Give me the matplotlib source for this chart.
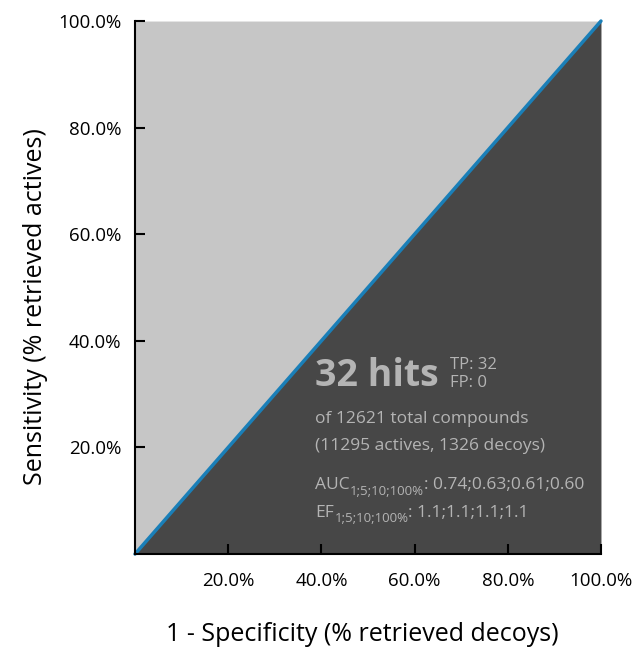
import numpy as np
import matplotlib.pyplot as plt
from matplotlib.transforms import offset_copy

plt.rcParams['font.family'] = ['Open Sans', 'DejaVu Sans']

# ROC curve points (fraction of decoys, fraction of actives)
roc_x = [0.0, 1.0]
roc_y = [0.0, 1.0]
ticks = [0.2, 0.4, 0.6, 0.8, 1.0]
tick_labels = ['20.0%', '40.0%', '60.0%', '80.0%', '100.0%']

hits = 32
tp, fp = 32, 0
total, actives, decoys = 12621, 11295, 1326
auc = [0.74, 0.63, 0.61, 0.60]
ef = [1.1, 1.1, 1.1, 1.1]
levels = '1;5;10;100%'

fig = plt.figure(figsize=(6.33, 6.53), dpi=100)
ax = fig.add_axes([0.2133, 0.1516, 0.7361, 0.8162])

# regions above / below the curve
ax.fill_between(roc_x, roc_y, 1, color='#c6c6c6', linewidth=0)
ax.fill_between(roc_x, 0, roc_y, color='#474747', linewidth=0)
ax.plot(roc_x, roc_y, color='#1a7fb8', linewidth=2.5, solid_capstyle='round', clip_on=False)

ax.set_xlim(0, 1)
ax.set_ylim(0, 1)
ax.set_xticks(ticks)
ax.set_xticklabels(tick_labels)
ax.set_yticks(ticks)
ax.set_yticklabels(tick_labels)
ax.tick_params(direction='in', length=7, width=1.5, labelsize=13.5, pad=10)
ax.tick_params(axis='x', pad=13)
ax.spines['top'].set_visible(False)
ax.spines['right'].set_visible(False)
ax.spines['left'].set_linewidth(1.5)
ax.spines['bottom'].set_linewidth(1.5)

ax.set_xlabel('1 - Specificity (% retrieved decoys)', fontsize=18)
ax.set_ylabel('Sensitivity (% retrieved actives)', fontsize=18)
ax.xaxis.set_label_coords(0.488, -0.128)
ax.yaxis.set_label_coords(-0.186, 0.465)

tc = '#b4b4b4'
ax.text(0.386, 0.315, f'{hits} hits', fontsize=27, fontweight='bold', color=tc)
ax.text(0.675, 0.348, f'TP: {tp}', fontsize=12, color=tc)
ax.text(0.675, 0.313, f'FP: {fp}', fontsize=12, color=tc)
ax.text(0.386, 0.246, f'of {total} total compounds', fontsize=12.5, color=tc)
ax.text(0.386, 0.195, f'({actives} actives, {decoys} decoys)', fontsize=12.5, color=tc)

renderer = fig.canvas.get_renderer()


def sub_line(x, y, head, rest):
    t1 = ax.text(x, y, head, fontsize=12.5, color=tc)
    w1 = t1.get_window_extent(renderer).width * 72 / fig.dpi
    tr = offset_copy(ax.transData, fig=fig, x=w1 + 0.5, y=-4, units='points')
    t2 = ax.text(x, y, levels, fontsize=9.5, color=tc, transform=tr)
    w2 = t2.get_window_extent(renderer).width * 72 / fig.dpi
    tr = offset_copy(ax.transData, fig=fig, x=w1 + w2 + 0.5, y=0, units='points')
    ax.text(x, y, rest, fontsize=12.5, color=tc, transform=tr)


sub_line(0.386, 0.122, 'AUC', ': ' + ';'.join(f'{v:.2f}' for v in auc))
sub_line(0.386, 0.070, 'EF', ': ' + ';'.join(f'{v:.1f}' for v in ef))

plt.savefig('out.png', dpi=100)
